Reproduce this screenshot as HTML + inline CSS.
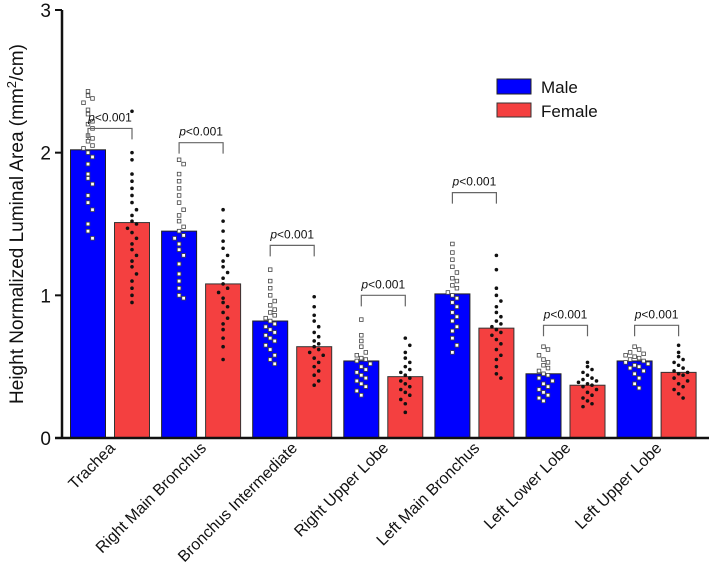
<!DOCTYPE html>
<html><head><meta charset="utf-8"><style>
body{margin:0;background:#fff;}
svg{display:block;font-family:"Liberation Sans",Arial,sans-serif;}
</style></head><body>
<svg id="chart" width="709" height="572" viewBox="0 0 709 572" xmlns="http://www.w3.org/2000/svg">
</svg>
<script>
const categories=["Trachea","Right Main Bronchus","Bronchus Intermediate","Right Upper Lobe","Left Main Bronchus","Left Lower Lobe","Left Upper Lobe"];
const maleMeans=[2.02,1.45,0.82,0.54,1.01,0.45,0.54];
const femaleMeans=[1.51,1.08,0.64,0.43,0.77,0.37,0.46];
const bracketTops=[2.17,2.07,1.35,1.0,1.72,0.79,0.79];
const yTicks=[0,1,2,3];
const maleDots=[
[2.43,2.40,2.38,2.35,2.30,2.27,2.22,2.20,2.17,2.12,2.10,2.08,2.05,2.03,2.0,1.97,1.92,1.85,1.82,1.78,1.70,1.65,1.60,1.50,1.45,1.40],
[1.95,1.92,1.85,1.80,1.75,1.70,1.65,1.60,1.56,1.52,1.48,1.45,1.42,1.40,1.36,1.32,1.28,1.22,1.15,1.10,1.05,1.00,0.98],
[1.18,1.10,1.05,1.00,0.96,0.93,0.90,0.88,0.86,0.84,0.82,0.80,0.78,0.76,0.74,0.72,0.70,0.68,0.65,0.62,0.58,0.55,0.52],
[0.83,0.72,0.68,0.64,0.60,0.58,0.56,0.55,0.54,0.52,0.50,0.48,0.46,0.44,0.42,0.40,0.38,0.36,0.33,0.30],
[1.36,1.30,1.25,1.20,1.16,1.12,1.10,1.07,1.05,1.02,1.00,0.98,0.95,0.92,0.88,0.85,0.82,0.78,0.75,0.70,0.65,0.60],
[0.64,0.62,0.58,0.55,0.53,0.51,0.49,0.47,0.45,0.44,0.42,0.40,0.38,0.36,0.34,0.32,0.30,0.28,0.26],
[0.64,0.62,0.60,0.59,0.58,0.57,0.56,0.55,0.54,0.53,0.52,0.51,0.50,0.49,0.47,0.45,0.42,0.38,0.35]];
const femaleDots=[
[2.29,2.00,1.95,1.85,1.80,1.75,1.70,1.65,1.60,1.56,1.52,1.50,1.47,1.44,1.40,1.36,1.32,1.28,1.24,1.20,1.15,1.10,1.05,1.00,0.95],
[1.60,1.52,1.45,1.38,1.33,1.28,1.24,1.20,1.16,1.12,1.08,1.05,1.02,0.98,0.95,0.92,0.88,0.84,0.80,0.76,0.70,0.64,0.55],
[0.99,0.92,0.86,0.82,0.78,0.74,0.71,0.68,0.66,0.64,0.62,0.60,0.58,0.56,0.53,0.50,0.47,0.44,0.40,0.37],
[0.70,0.65,0.60,0.56,0.53,0.50,0.48,0.46,0.44,0.42,0.40,0.38,0.36,0.34,0.32,0.30,0.27,0.24,0.18],
[1.28,1.18,1.05,1.00,0.96,0.92,0.88,0.85,0.82,0.80,0.78,0.76,0.74,0.72,0.69,0.66,0.62,0.58,0.55,0.50,0.45,0.42],
[0.53,0.50,0.48,0.46,0.44,0.42,0.41,0.40,0.39,0.38,0.37,0.36,0.34,0.32,0.30,0.28,0.26,0.24,0.22],
[0.65,0.60,0.57,0.55,0.53,0.51,0.49,0.47,0.46,0.45,0.44,0.42,0.40,0.38,0.36,0.34,0.31,0.28]];

const NS="http://www.w3.org/2000/svg";
const svg=document.getElementById('chart');
const y0=438, yTop=10, yMax=3;
function yScale(v){return y0-(v/yMax)*(y0-yTop);}
function xMale(i){return 88+i*91.1;}
function xFemale(i){return 132+i*91.1;}
function mk(tag,attrs,parent){const e=document.createElementNS(NS,tag);for(const k in attrs)e.setAttribute(k,attrs[k]);(parent||svg).appendChild(e);return e;}

categories.forEach((c,i)=>{
  const bm=mk('rect',{x:xMale(i)-17.5,y:yScale(maleMeans[i]),width:35,height:y0-yScale(maleMeans[i]),fill:'#0000ff',stroke:'#222','stroke-width':1});
  
  
  const bf=mk('rect',{x:xFemale(i)-17.5,y:yScale(femaleMeans[i]),width:35,height:y0-yScale(femaleMeans[i]),fill:'#f44040',stroke:'#333','stroke-width':1});
  
  
});
function drawDots(arr,xc,male){
  const used={};
  arr.forEach((v)=>{
    const yy=yScale(v);const bin=Math.round(yy/9);
    const n=used[bin]||0;used[bin]=n+1;
    const off=(n%2?1:-1)*Math.ceil(n/2)*4.5+(n===0?4.5*0:0);
    let d;
    if(male){d=mk('rect',{x:xc+off-1.8,y:yy-1.8,width:3.6,height:3.6,fill:'#fff',stroke:'#444','stroke-width':0.8});}
    else{d=mk('circle',{cx:xc+off,cy:yy,r:1.8,fill:'#111'});}
    
    
  });
}
categories.forEach((c,i)=>{drawDots(maleDots[i],xMale(i),true);drawDots(femaleDots[i],xFemale(i),false);});
categories.forEach((c,i)=>{
  const yb=yScale(bracketTops[i]);
  const p=mk('path',{d:`M${xMale(i)},${yb+11}V${yb}H${xFemale(i)}V${yb+11}`,fill:'none',stroke:'#666','stroke-width':1.2});
  
  
  const t=mk('text',{x:(xMale(i)+xFemale(i))/2,y:yb-7,'text-anchor':'middle','font-size':12,fill:'#111'});
  t.innerHTML='<tspan font-style="italic">p</tspan>&lt;0.001';
  
  
});
const ya=mk('line',{x1:62,y1:yTop,x2:62,y2:y0+1,stroke:'#111','stroke-width':2.5});


const xa=mk('line',{x1:55,y1:y0,x2:709,y2:y0,stroke:'#111','stroke-width':2.5});


yTicks.forEach(v=>{
  const tk=mk('line',{x1:55,y1:yScale(v),x2:62,y2:yScale(v),stroke:'#111','stroke-width':2});
  
  
  const tl=mk('text',{x:51,y:yScale(v)+7,'text-anchor':'end','font-size':19,fill:'#111'});
  tl.textContent=v;
  
  
});
categories.forEach((c,i)=>{
  const cx=(xMale(i)+xFemale(i))/2+6;
  const t=mk('text',{x:0,y:0,'text-anchor':'end','font-size':16,fill:'#111',transform:`translate(${cx},449) rotate(-45)`});
  t.textContent=c;
  
  
});
const yt=mk('text',{x:0,y:0,'text-anchor':'middle','font-size':19,fill:'#111',transform:'translate(23,224) rotate(-90)'});
yt.innerHTML='Height Normalized Luminal Area (mm<tspan baseline-shift="super" font-size="13">2</tspan>/cm)';


const lg=mk('g',{});


mk('rect',{x:497,y:79,width:34,height:15,fill:'#0000ff',stroke:'#222'},lg);
mk('rect',{x:497,y:103,width:34,height:14,fill:'#f44040',stroke:'#333'},lg);
const l1=mk('text',{x:541,y:93,'font-size':17,fill:'#111'},lg);l1.textContent='Male';


const l2=mk('text',{x:541,y:117,'font-size':17,fill:'#111'},lg);l2.textContent='Female';


</script>
</body></html>
